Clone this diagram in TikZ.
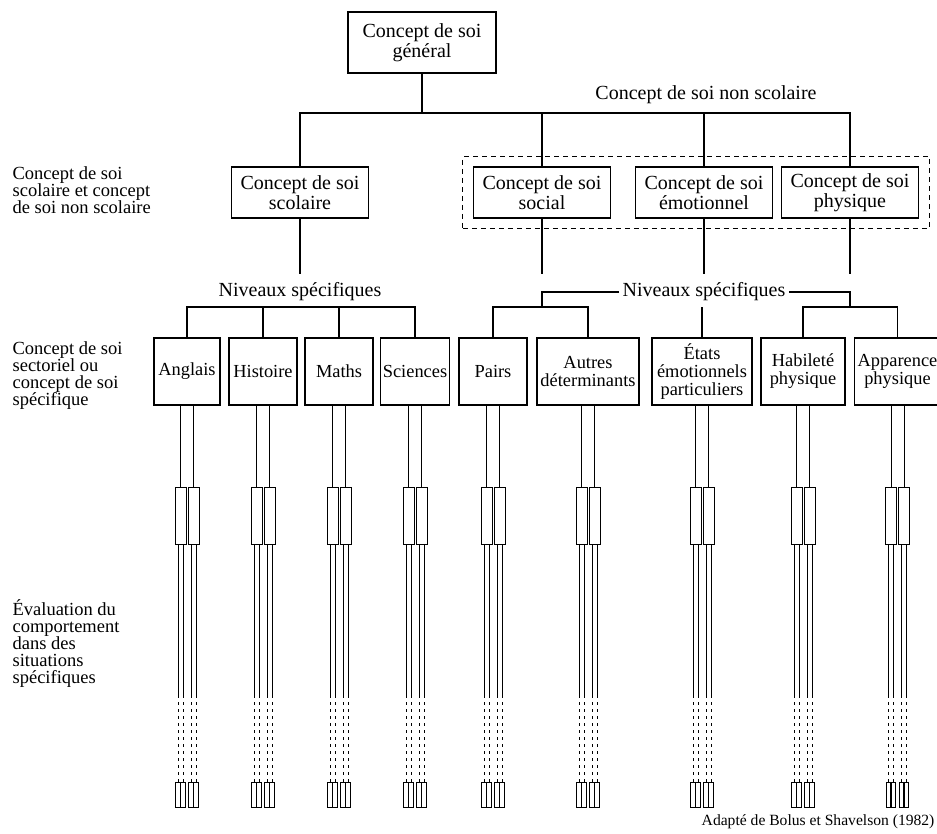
\documentclass[tikz,border=0pt]{standalone}
\usepackage{fontspec}
\setmainfont{Liberation Serif}
\usetikzlibrary{fit}

\begin{document}
\begin{tikzpicture}[x=0.5pt, y=-0.5pt, line width=0.6pt,
  bigbox/.style={draw, align=center, inner sep=1pt, minimum width=68.5pt, minimum height=25.5pt, font=\fontsize{10}{10}\selectfont},
  subbox/.style={draw, align=center, inner sep=1pt, minimum height=33.5pt, font=\fontsize{9.2}{9}\selectfont},
  levtext/.style={inner sep=1.5pt, font=\fontsize{10}{10}\selectfont},
  sidetext/.style={align=left, inner sep=0pt, font=\fontsize{9.25}{8.5}\selectfont},
  groupframe/.style={draw, line width=0.5pt, dash pattern=on 2.5pt off 2pt, inner sep=5pt},
  midbox/.style={draw, line width=0.5pt, inner sep=0pt, minimum width=5.5pt, minimum height=28.5pt},
  tipbox/.style={draw, line width=0.35pt, inner sep=0pt, minimum width=2.3pt, minimum height=12.5pt},
  thinline/.style={line width=0.5pt},
  dashline/.style={line width=0.5pt, dash pattern=on 1.5pt off 2pt}]
\useasboundingbox (0,0) rectangle (937,834);

\coordinate (bar) at (0,113);
\coordinate (stem) at (0,274);
\coordinate (sub) at (0,307);
\coordinate (midrow) at (0,515.5);
\coordinate (dashrow) at (0,695);
\coordinate (tiprow) at (0,794.5);

\node[bigbox, minimum width=74pt, minimum height=30.5pt] (general) at (422,42.5) {Concept de soi\\général};
\node[levtext] (nslabel) at (706,95) {Concept de soi non scolaire};

\node[bigbox] (scolaire) at (300,192.5) {Concept de soi\\scolaire};
\node[bigbox] (social) at (542,192.5) {Concept de soi\\social};
\node[bigbox] (emotionnel) at (704,192.5) {Concept de soi\\émotionnel};
\node[bigbox] (physique) at (850,192.5) {Concept de soi\\physique};
\node[groupframe, fit=(social)(emotionnel)(physique)] (nonscolaire) {};

\node[levtext] (niv1) at (300,292) {Niveaux spécifiques};
\node[levtext] (niv2) at (704,292) {Niveaux spécifiques};

\node[subbox, minimum width=33pt] (anglais) at (187,371.5) {Anglais};
\node[subbox, minimum width=34pt] (histoire) at (263,371.5) {Histoire};
\node[subbox, minimum width=34pt] (maths) at (339,371.5) {Maths};
\node[subbox, minimum width=34pt] (sciences) at (415,371.5) {Sciences};
\node[subbox, minimum width=34pt] (pairs) at (493,371.5) {Pairs};
\node[subbox, minimum width=51pt] (autres) at (588,371.5) {Autres\\déterminants};
\node[subbox, minimum width=50pt] (etats) at (702,371.5) {États\\émotionnels\\particuliers};
\node[subbox, minimum width=42pt] (habilete) at (803,371.5) {Habileté\\physique};
\node[subbox, minimum width=43pt] (apparence) at (897.5,371.5) {Apparence\\physique};

\node[sidetext, anchor=west] (lev2) at (12,190) {Concept de soi\\scolaire et concept\\de soi non scolaire};
\node[sidetext, anchor=west] (lev3) at (12,376) {Concept de soi\\sectoriel ou\\concept de soi\\spécifique};
\node[sidetext, anchor=west] (lev4) at (12,644) {Évaluation du\\comportement\\dans des\\situations\\spécifiques};
\node[inner sep=0pt, font=\fontsize{7.8}{8}\selectfont, anchor=east] (source) at (935,822) {Adapté de Bolus et Shavelson (1982)};

\draw (general.south) -- (general.south |- bar);
\draw (scolaire.north) |- (physique.north |- bar) -- (physique.north);
\draw (social.north) -- (social.north |- bar);
\draw (emotionnel.north) -- (emotionnel.north |- bar);
\foreach \b in {scolaire,social,emotionnel,physique}
  \draw (\b.south) -- (\b.south |- stem);

\draw (anglais.north) |- (sciences.north |- sub) -- (sciences.north);
\draw (histoire.north) -- (histoire.north |- sub);
\draw (maths.north) -- (maths.north |- sub);
\draw (niv2.west) -| (social.south |- sub);
\draw (niv2.east) -| (physique.south |- sub);
\draw (pairs.north) |- (autres.north |- sub) -- (autres.north);
\draw (habilete.north) |- (apparence.north |- sub) -- (apparence.north);
\draw (etats.north) -- (etats.north |- sub);

\foreach \b in {anglais,histoire,maths,sciences,pairs,autres,etats,habilete,apparence}{
  \foreach \k/\s in {a/-3.25pt,b/3.25pt}{
    \node[midbox, xshift=\s] (\b\k) at (\b.south |- midrow) {};
    \draw[thinline] (\b\k.north |- \b.south) -- (\b\k.north);
    \foreach \j/\t in {1/-1.25pt,2/1.25pt}{
      \node[tipbox, xshift=\t] (\b\k\j) at (\b\k.south |- tiprow) {};
      \draw[thinline] (\b\k\j.north |- \b\k.south) -- (\b\k\j.north |- dashrow);
      \draw[dashline] (\b\k\j.north |- dashrow) -- (\b\k\j.north);
    }
  }
}
\end{tikzpicture}
\end{document}
